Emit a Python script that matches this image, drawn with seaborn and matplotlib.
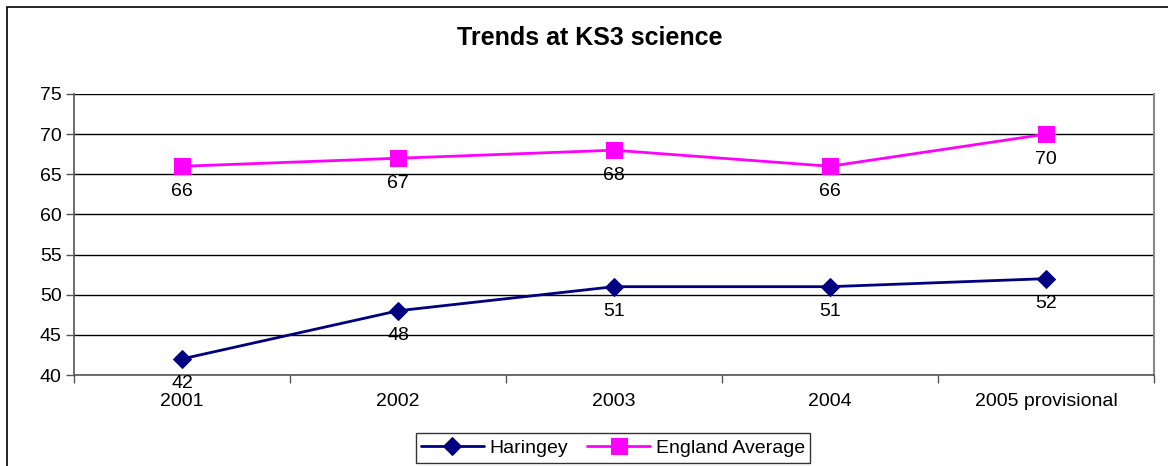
import matplotlib
matplotlib.use("Agg")
import matplotlib.pyplot as plt
import seaborn as sns
import pandas as pd
from matplotlib.patches import Rectangle

years = ["2001", "2002", "2003", "2004", "2005 provisional"]
haringey = [42, 48, 51, 51, 52]
england = [66, 67, 68, 66, 70]

df = pd.DataFrame({
    "year": years * 2,
    "pos": list(range(len(years))) * 2,
    "value": haringey + england,
    "series": ["Haringey"] * len(years) + ["England Average"] * len(years),
})

sns.set_style("white")
plt.rcParams["font.family"] = ["Liberation Sans", "DejaVu Sans"]
plt.rcParams["text.color"] = "black"
plt.rcParams["xtick.labelcolor"] = "black"
plt.rcParams["ytick.labelcolor"] = "black"

fig = plt.figure(figsize=(11.68, 4.66), dpi=100)
ax = fig.add_axes([74 / 1168, 1 - 375 / 466, (1154 - 74) / 1168, (375 - 94) / 466])

# outer chart frame (left and top visible)
fig.patches.append(Rectangle((7 / 1168, -0.1), 1.2, (466 - 7) / 466 + 0.1,
                             transform=fig.transFigure, fill=False,
                             edgecolor="black", linewidth=1.2))

colors = {"Haringey": "#000080", "England Average": "#FF00FF"}
markers = {"Haringey": "D", "England Average": "s"}
sizes = {"Haringey": 9, "England Average": 11}

for name in ["Haringey", "England Average"]:
    sub = df[df["series"] == name]
    sns.lineplot(data=sub, x="pos", y="value", ax=ax, color=colors[name],
                 marker=markers[name], markersize=sizes[name],
                 markeredgecolor=colors[name], linewidth=2, label=name)
    for x, y in zip(sub["pos"], sub["value"]):
        ax.annotate(str(y), (x, y), xytext=(0, -18), textcoords="offset points",
                    ha="center", va="center", fontsize=14, color="black")

ax.set_xlim(-0.5, len(years) - 0.5)
ax.set_ylim(40, 75)
ax.set_yticks(range(40, 76, 5))
ax.set_xticks(range(len(years)))
ax.set_xticklabels(years)
ax.set_xticks([i - 0.5 for i in range(len(years) + 1)], minor=True)
ax.set_xlabel("")
ax.set_ylabel("")
ax.tick_params(axis="y", which="major", length=6, width=1, color="#555555",
               labelsize=14, pad=3, left=True, labelcolor="black")
ax.tick_params(axis="x", which="major", length=0, labelsize=14, pad=13,
               labelcolor="black")
ax.tick_params(axis="x", which="minor", length=6, width=1, color="#555555",
               bottom=True)
ax.yaxis.grid(True, color="black", linewidth=1)
ax.set_axisbelow(True)

for side in ["left", "bottom"]:
    ax.spines[side].set_color("#555555")
    ax.spines[side].set_linewidth(1.2)
for side in ["right", "top"]:
    ax.spines[side].set_color("#888888")
    ax.spines[side].set_linewidth(1.5)
ax.spines["top"].set_visible(False)

fig.text(590 / 1168, 1 - 38 / 466, "Trends at KS3 science", ha="center",
         va="center", fontsize=18, fontweight="bold", color="black")

leg = ax.legend(loc="center", bbox_to_anchor=(613 / 1168, 1 - 448 / 466),
                bbox_transform=fig.transFigure, ncol=2, frameon=True,
                fancybox=False, fontsize=14, handlelength=3.2,
                handletextpad=0.3, columnspacing=1.0, borderpad=0.3)
leg.get_frame().set_edgecolor("black")
leg.get_frame().set_linewidth(1)
for t in leg.get_texts():
    t.set_color("black")

fig.savefig("out.png", dpi=100)
